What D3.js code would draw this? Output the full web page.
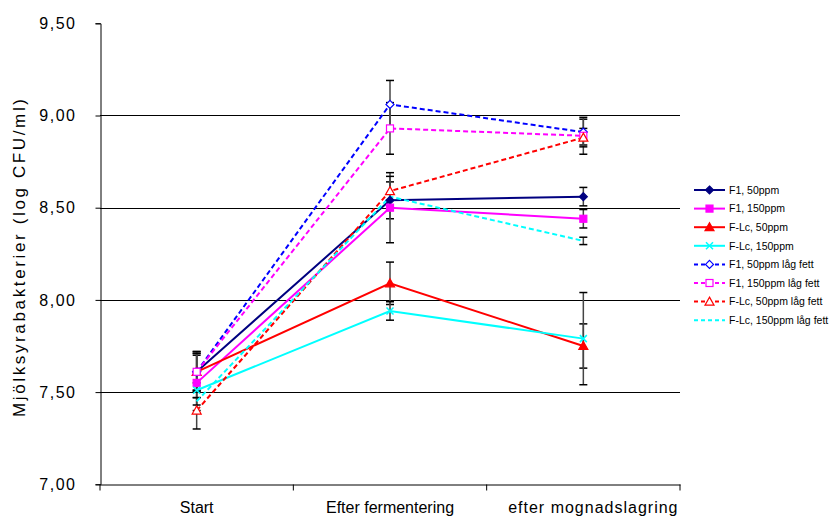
<!DOCTYPE html>
<html>
<head>
<meta charset="utf-8">
<script src="https://cdn.jsdelivr.net/npm/d3@7"></script>
<style>
  body { margin: 0; background: #fff; }
  svg { display: block; font-family: "Liberation Sans", Arial, sans-serif; }
</style>
</head>
<body>
<svg id="chart" width="838" height="517"></svg>
<script>
// categories on the x axis
const categories = ["Start", "Efter fermentering", "efter mognadslagring"];
const yTicks = [7.0, 7.5, 8.0, 8.5, 9.0, 9.5];

// series names (legend order)
const seriesNames = [
  "F1, 50ppm", "F1, 150ppm", "F-Lc, 50ppm", "F-Lc, 150ppm",
  "F1, 50ppm låg fett", "F1, 150ppm låg fett", "F-Lc, 50ppm låg fett", "F-Lc, 150ppm låg fett"
];

// mean values, log CFU/ml
const f1_50 = [7.61, 8.54, 8.56];
const f1_150 = [7.55, 8.50, 8.44];
const flc_50 = [7.61, 8.09, 7.75];
const flc_150 = [7.51, 7.94, 7.79];
const f1_50_lag = [7.61, 9.06, 8.91];
const f1_150_lag = [7.61, 8.93, 8.89];
const flc_50_lag = [7.40, 8.59, 8.88];
const flc_150_lag = [7.45, 8.56, 8.32];

// standard deviations (error bars)
const f1_50_sd = [0.10, 0.10, 0.05];
const f1_150_sd = [0.15, 0.19, 0.05];
const flc_50_sd = [0.11, 0.115, 0.12];
const flc_150_sd = [0.04, 0.05, 0.25];
const f1_50_lag_sd = [0.11, 0.13, 0.07];
const f1_150_lag_sd = [0.10, 0.14, 0.10];
const flc_50_lag_sd = [0.10, 0.08, 0.05];
const flc_150_lag_sd = [0.02, 0.02, 0.02];

const values = [f1_50, f1_150, flc_50, flc_150, f1_50_lag, f1_150_lag, flc_50_lag, flc_150_lag];
const errors = [f1_50_sd, f1_150_sd, flc_50_sd, flc_150_sd, f1_50_lag_sd, f1_150_lag_sd, flc_50_lag_sd, flc_150_lag_sd];

// styling per series
const colors = ["#000080", "#FF00FF", "#FF0000", "#00FFFF", "#0000FF", "#FF00FF", "#FF0000", "#00FFFF"];
const dashed = [false, false, false, false, true, true, true, true];
const markers = ["diamond", "square", "triangle", "cross", "diamond", "square", "triangle", "none"];
const filled = [true, true, true, true, false, false, false, false];

const series = seriesNames.map((name, i) => ({
  name, color: colors[i], dashed: dashed[i], marker: markers[i], filled: filled[i],
  points: categories.map((c, j) => ({ cat: c, v: values[i][j], e: errors[i][j] }))
}));

const svg = d3.select("#chart");
const plotLeft = 100, plotRight = 680, plotTop = 23.3, plotBottom = 484.3;

const x = d3.scaleBand().domain(categories).range([plotLeft, plotRight]).paddingInner(0).paddingOuter(0);
const y = d3.scaleLinear().domain([7, 9.5]).range([plotBottom, plotTop]);
const cx = c => x(c) + x.bandwidth() / 2;

// gridlines
svg.append("g").selectAll("line")
  .data(yTicks.filter(t => t > 7 && t < 9.5))
  .enter().append("line")
  .attr("x1", plotLeft).attr("x2", plotRight)
  .attr("y1", d => Math.round(y(d)) + 0.5).attr("y2", d => Math.round(y(d)) + 0.5)
  .attr("stroke", "#000").attr("stroke-width", 1);

// y axis
const yAxis = svg.append("g")
  .attr("transform", `translate(${plotLeft + 0.5},0)`)
  .call(d3.axisLeft(y).tickValues(yTicks).tickSize(5).tickPadding(19)
    .tickFormat(d => d3.format(".2f")(d).replace(".", ",")));
yAxis.select(".domain").attr("stroke", "#000");
yAxis.selectAll("text").attr("font-size", 16).attr("fill", "#000")
  .attr("font-family", "Liberation Sans, Arial, sans-serif").attr("letter-spacing", 1.5);

// x axis
const xAxis = svg.append("g")
  .attr("transform", `translate(0,${Math.round(plotBottom) + 0.5})`)
  .call(d3.axisBottom(x).tickSize(0).tickPadding(17));
xAxis.select(".domain").attr("stroke", "#000");
xAxis.selectAll("text").attr("font-size", 16).attr("fill", "#000")
  .attr("font-family", "Liberation Sans, Arial, sans-serif")
  .attr("dx", (d, i) => i === 2 ? 10 : 0)
  .attr("letter-spacing", (d, i) => i === 2 ? 1 : 0);
// tick marks between categories
xAxis.selectAll(".sep")
  .data([plotLeft, ...categories.map(c => x(c) + x.bandwidth())])
  .enter().append("line")
  .attr("x1", d => d).attr("x2", d => d)
  .attr("y1", 0).attr("y2", 6)
  .attr("stroke", "#000");

// y label
svg.append("text")
  .attr("transform", `translate(25,258) rotate(-90)`)
  .attr("text-anchor", "middle")
  .attr("font-size", 17)
  .attr("textLength", 318)
  .attr("lengthAdjust", "spacing")
  .text("Mjölksyrabakterier (log CFU/ml)");

// error bars
const eb = svg.append("g");
series.forEach(s => {
  s.points.forEach(p => {
    const px = cx(p.cat);
    eb.append("line").attr("x1", px).attr("x2", px)
      .attr("y1", y(p.v - p.e)).attr("y2", y(p.v + p.e))
      .attr("stroke", "#444").attr("stroke-width", 1.5);
    [p.v - p.e, p.v + p.e].forEach(v => {
      eb.append("line").attr("x1", px - 4).attr("x2", px + 4)
        .attr("y1", y(v)).attr("y2", y(v))
        .attr("stroke", "#000").attr("stroke-width", 1.5);
    });
  });
});

// lines
const line = d3.line().x(d => cx(d.cat)).y(d => y(d.v));
svg.append("g").selectAll("path")
  .data(series)
  .enter().append("path")
  .attr("d", d => line(d.points))
  .attr("fill", "none")
  .attr("stroke", d => d.color)
  .attr("stroke-width", 2)
  .attr("stroke-dasharray", d => d.dashed ? "5,3" : null);

function drawMarker(g, s, px, py) {
  const fill = s.filled ? s.color : "#fff";
  if (s.marker === "diamond") {
    g.append("path").attr("d", `M${px},${py - 4}L${px + 4},${py}L${px},${py + 4}L${px - 4},${py}Z`)
      .attr("fill", fill).attr("stroke", s.color).attr("stroke-width", 1.2);
  } else if (s.marker === "square") {
    g.append("rect").attr("x", px - 3.5).attr("y", py - 3.5).attr("width", 7).attr("height", 7)
      .attr("fill", fill).attr("stroke", s.color).attr("stroke-width", 1.2);
  } else if (s.marker === "triangle") {
    g.append("path").attr("d", `M${px},${py - 4.5}L${px + 4.5},${py + 3.5}L${px - 4.5},${py + 3.5}Z`)
      .attr("fill", fill).attr("stroke", s.color).attr("stroke-width", 1.2);
  } else if (s.marker === "cross") {
    g.append("path").attr("d", `M${px - 3.5},${py - 3.5}L${px + 3.5},${py + 3.5}M${px + 3.5},${py - 3.5}L${px - 3.5},${py + 3.5}`)
      .attr("stroke", s.color).attr("stroke-width", 1.5);
  }
}

// markers
const mk = svg.append("g");
series.forEach(s => s.points.forEach(p => drawMarker(mk, s, cx(p.cat), y(p.v))));

// legend
const legend = svg.append("g");
series.forEach((s, i) => {
  const ly = 190 + i * 18.6;
  legend.append("line").attr("x1", 694).attr("x2", 725).attr("y1", ly).attr("y2", ly)
    .attr("stroke", s.color).attr("stroke-width", 2)
    .attr("stroke-dasharray", s.dashed ? "4,3" : null);
  drawMarker(legend, s, 709.5, ly);
  legend.append("text").attr("x", 729).attr("y", ly + 3.7)
    .attr("font-size", 10.5).text(s.name);
});
</script>
</body>
</html>
